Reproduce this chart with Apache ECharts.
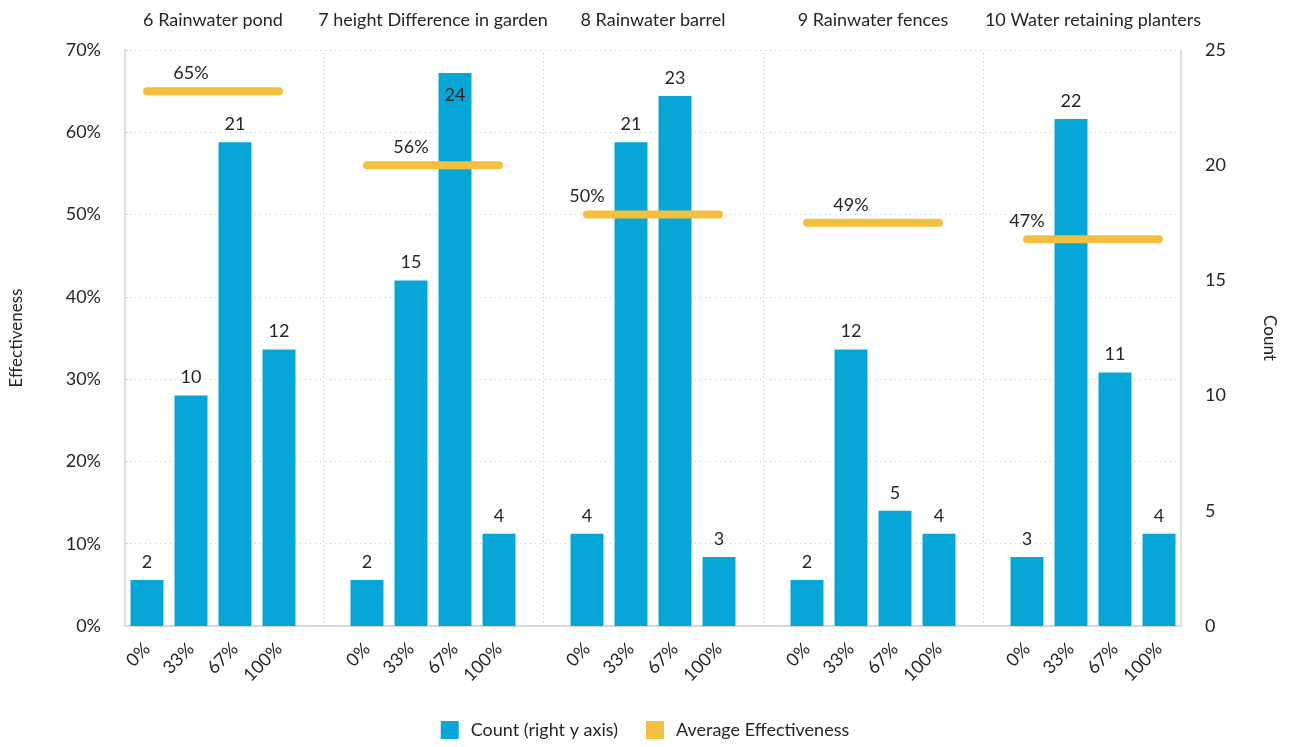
<!DOCTYPE html>
<html>
<head>
<meta charset="utf-8">
<title>Effectiveness of rainwater measures</title>
<script src="https://cdn.jsdelivr.net/npm/echarts@6/dist/echarts.min.js"></script>
<style>
  html, body { margin: 0; padding: 0; background: #fff; }
  #chart { width: 1290px; height: 747px; }
</style>
</head>
<body>
<div id="chart"></div>
<script>
// Measures shown side by side, each with its four rating buckets
const panelTitles = [
  '6 Rainwater pond',
  '7 height Difference in garden',
  '8 Rainwater barrel',
  '9 Rainwater fences',
  '10 Water retaining planters'
];
const ratingLabels = ['0%', '33%', '67%', '100%'];

// Number of answers per rating bucket, one list per measure
const countPond = [2, 10, 21, 12];
const countHeight = [2, 15, 24, 4];
const countBarrel = [4, 21, 23, 3];
const countFences = [2, 12, 5, 4];
const countPlanters = [3, 22, 11, 4];

// Average effectiveness per measure
const avgEffectiveness = [0.65, 0.56, 0.50, 0.49, 0.47];

// Left axis ticks (effectiveness) and right axis ticks (count)
const effTicks = [0, 0.1, 0.2, 0.3, 0.4, 0.5, 0.6, 0.7];
const countTicks = [0, 5, 10, 15, 20, 25];

const counts = [countPond, countHeight, countBarrel, countFences, countPlanters];

const BLUE = '#06a6d6';
const YELLOW = '#f2bf3f';
const FONT = 'Lato';
const FS = 18;
const TEXT = '#262626';

// Where along each average line its label sits (bucket index)
const avgLabelAt = [1, 1, 0, 1, 0];

// One shared category axis: four buckets per measure, a spacer slot between measures
const xCats = [];
const barData = [];
const lineData = [];
const spacerSlots = [];
const titleSlots = [];
panelTitles.forEach((t, p) => {
  if (p > 0) {
    spacerSlots.push(xCats.length);
    xCats.push('');
    barData.push('-');
    lineData.push('-');
  }
  titleSlots.push(xCats.length + 2);
  ratingLabels.forEach((r, k) => {
    xCats.push(r);
    const v = counts[p][k];
    barData.push({
      value: v,
      label: v >= 24 ? { position: 'insideTop', distance: 13 } : undefined
    });
    lineData.push({
      value: avgEffectiveness[p],
      label: { show: k === avgLabelAt[p] }
    });
  });
});

const chart = echarts.init(document.getElementById('chart'));
chart.setOption({
  animation: false,
  textStyle: { fontFamily: FONT, color: TEXT },
  grid: { left: 125, right: 109, top: 50, bottom: 121, containLabel: false },
  legend: {
    bottom: 3,
    left: 'center',
    itemWidth: 18,
    itemHeight: 18,
    itemGap: 28,
    icon: 'rect',
    textStyle: { fontFamily: FONT, fontSize: FS, color: TEXT, padding: [0, 0, 0, 7] },
    data: ['Count (right y axis)', 'Average Effectiveness']
  },
  xAxis: [
    {
      type: 'category',
      data: xCats,
      boundaryGap: true,
      axisLine: { lineStyle: { color: '#cfcfcf', width: 1.5 } },
      axisTick: { alignWithLabel: true, interval: 0, length: 6, lineStyle: { color: '#cfcfcf' } },
      axisLabel: {
        interval: 0,
        rotate: 45,
        margin: 20,
        fontFamily: FONT,
        fontSize: FS,
        color: TEXT
      },
      splitLine: { show: false }
    },
    {
      type: 'value',
      position: 'top',
      min: 0,
      max: xCats.length,
      axisLine: { show: false },
      axisTick: { show: false },
      splitLine: { show: false },
      axisLabel: {
        customValues: titleSlots,
        margin: 21,
        fontFamily: FONT,
        fontSize: FS,
        color: TEXT,
        formatter: v => panelTitles[titleSlots.indexOf(v)] || ''
      }
    }
  ],
  yAxis: [
    {
      type: 'value',
      position: 'left',
      min: effTicks[0],
      max: effTicks[effTicks.length - 1],
      interval: 0.1,
      name: 'Effectiveness',
      nameLocation: 'middle',
      nameGap: 100,
      nameTextStyle: { fontFamily: FONT, fontSize: 17, color: TEXT },
      axisLine: { show: true, lineStyle: { color: '#d4d4d4', width: 1.5 } },
      axisTick: { show: true, inside: true, length: 3, lineStyle: { color: '#d4d4d4' } },
      axisLabel: {
        margin: 24,
        fontFamily: FONT,
        fontSize: FS,
        color: TEXT,
        formatter: v => Math.round(v * 100) + '%'
      },
      splitLine: { show: true, lineStyle: { color: '#c5cad3', type: [1, 4], width: 1 } }
    },
    {
      type: 'value',
      position: 'right',
      min: countTicks[0],
      max: countTicks[countTicks.length - 1],
      interval: 5,
      name: 'Count',
      nameLocation: 'middle',
      nameRotate: -90,
      nameGap: 80,
      nameTextStyle: { fontFamily: FONT, fontSize: 17, color: TEXT },
      axisLine: { show: true, lineStyle: { color: '#d4d4d4', width: 1.5 } },
      axisTick: { show: false },
      axisLabel: { margin: 24, fontFamily: FONT, fontSize: FS, color: TEXT },
      splitLine: { show: false }
    }
  ],
  series: [
    {
      name: 'Count (right y axis)',
      type: 'bar',
      xAxisIndex: 0,
      yAxisIndex: 1,
      data: barData,
      barWidth: '75%',
      itemStyle: { color: BLUE },
      label: {
        show: true,
        position: 'top',
        distance: 9,
        fontFamily: FONT,
        fontSize: FS,
        color: TEXT
      },
      markLine: {
        silent: true,
        symbol: 'none',
        label: { show: false },
        lineStyle: { color: '#b4c3da', type: [1, 3], width: 1 },
        data: spacerSlots.map(s => ({ xAxis: s }))
      },
      z: 2
    },
    {
      name: 'Average Effectiveness',
      type: 'line',
      xAxisIndex: 0,
      yAxisIndex: 0,
      data: lineData,
      connectNulls: false,
      showSymbol: true,
      symbol: 'circle',
      symbolSize: 0,
      itemStyle: { color: YELLOW },
      lineStyle: { color: YELLOW, width: 8, cap: 'round' },
      label: {
        show: false,
        position: 'top',
        distance: 9,
        fontFamily: FONT,
        fontSize: FS,
        color: TEXT,
        formatter: p => Math.round(p.value * 100) + '%'
      },
      z: 3
    }
  ]
});
</script>
</body>
</html>
